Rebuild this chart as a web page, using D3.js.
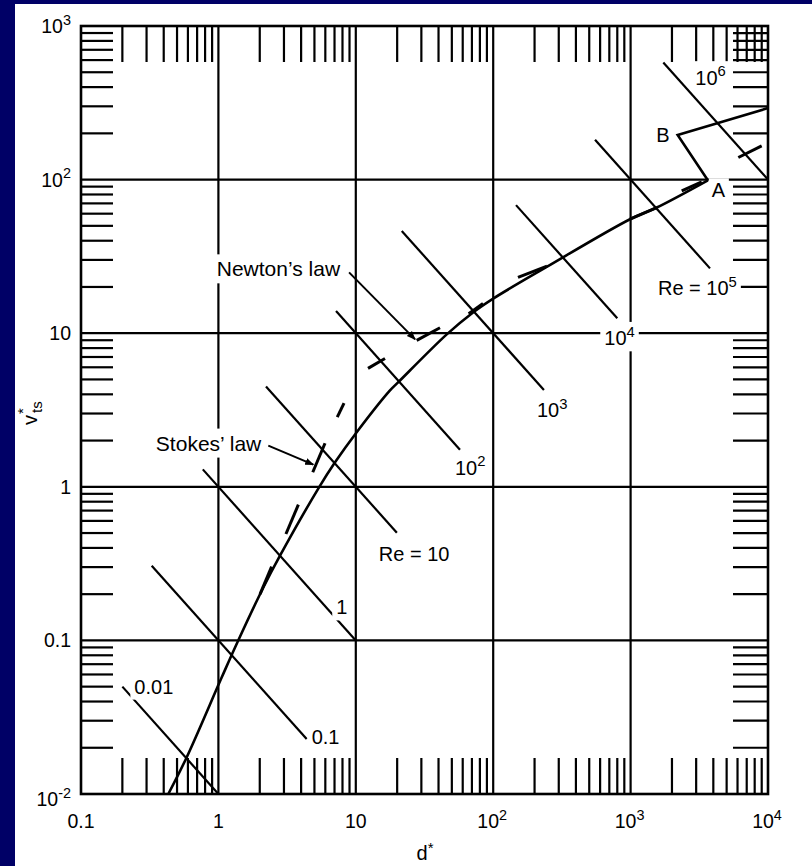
<!DOCTYPE html>
<html>
<head>
<meta charset="utf-8">
<script src="https://cdn.jsdelivr.net/npm/d3@7"></script>
<style>
  html, body { margin: 0; padding: 0; background: #000066; }
  svg { display: block; }
  text { font-family: "Liberation Sans", Arial, Helvetica, sans-serif; fill: #000; }
</style>
</head>
<body>
<svg id="chart" width="812" height="866"></svg>
<script>
// Terminal velocity of spheres: dimensionless v*ts against dimensionless d*

// Axis decades and their labels ([base, superscript])
const xDecades = [0.1, 1, 10, 100, 1000, 10000];
const xTickLabels = [["0.1"], ["1"], ["10"], ["10", "2"], ["10", "3"], ["10", "4"]];
const yDecades = [0.01, 0.1, 1, 10, 100, 1000];
const yTickLabels = [["10", "-2"], ["0.1"], ["1"], ["10"], ["10", "2"], ["10", "3"]];

// Solid curve for spheres, up to point A
const curveD = [0.432, 0.587, 1.056, 1.373, 2.123, 2.807, 5.40, 7.06, 10.15, 17.74, 20.4, 45.9, 71.7, 100, 245, 990, 1549, 3650];
const curveV = [0.01, 0.0173, 0.0573, 0.0969, 0.221, 0.356, 0.992, 1.444, 2.266, 4.24, 4.80, 9.82, 13.7, 16.8, 27.0, 55.2, 65.8, 99];

// Drag crisis: A -> B, then on to the right edge
const crisisD = [3650, 2200, 10000];
const crisisV = [99, 195, 292];
const crisisNames = ["A", "B"];

// Dashes of the Stokes' law and Newton's law lines: [d0, v0, d1, v1]
const stokesDashes = [
  [2.01, 0.200, 2.44, 0.302],
  [3.10, 0.493, 3.82, 0.765],
  [4.86, 1.243, 5.97, 1.921],
  [7.33, 2.839, 8.21, 3.502]
];
const newtonDashes = [
  [12.27, 5.90, 16.31, 6.85],
  [27.75, 8.98, 41.0, 10.86],
  [66.3, 13.4, 84.3, 15.6],
  [151.5, 23.1, 246.4, 27.3],
  [990, 55.2, 1549, 65.8],
  [2355, 84.4, 3293, 96.6],
  [6081, 139.3, 8995, 165.9]
];

// Lines of constant Reynolds number (v* = Re / d*) and the d* span of each
const reValues = [0.01, 0.1, 1, 10, 100, 1000, 1e4, 1e5, 1e6];
const reSpanD = [[0.2, 1], [0.327, 4.39], [0.77, 10], [2.22, 19.9], [7.18, 57.3],
                 [21.6, 234], [146.6, 800], [551, 3784], [1730, 10000]];
const reLabels = [["0.01"], ["0.1"], ["1"], ["Re = 10"], ["10", "2"], ["10", "3"],
                  ["10", "4"], ["Re = 10", "5"], ["10", "6"]];

// Points the law labels point at
const lawNames = ["Newton\u2019s law", "Stokes\u2019 law"];
const lawTargetD = [27.0, 4.906];
const lawTargetV = [9.12, 1.395];

// ---------------------------------------------------------------------------
const svg = d3.select("#chart");
const W = 812, H = 866;

const x = d3.scaleLog().domain([0.1, 1e4]).range([81, 768]);
const y = d3.scaleLog().domain([0.01, 1000]).range([794, 26]);
const [x0, x1] = x.range();
const [y0, y1] = [y.range()[1], y.range()[0]]; // top, bottom

svg.append("rect").attr("width", W).attr("height", H).attr("fill", "#000066");
svg.append("rect").attr("x", 15).attr("y", 4).attr("width", W - 15).attr("height", H - 4).attr("fill", "#fff");

const ink = "#000";
const plot = svg.append("g");

// Decade grid lines
plot.append("g").selectAll("line").data(xDecades.slice(1, -1)).join("line")
  .attr("x1", d => x(d)).attr("x2", d => x(d)).attr("y1", y0).attr("y2", y1)
  .attr("stroke", ink).attr("stroke-width", 2.2);
plot.append("g").selectAll("line").data(yDecades.slice(1, -1)).join("line")
  .attr("y1", d => y(d)).attr("y2", d => y(d)).attr("x1", x0).attr("x2", x1)
  .attr("stroke", ink).attr("stroke-width", 2.2);

// Minor ticks (2..9 in every decade) drawn inward on all four sides
const minor = (decades) => {
  const out = [];
  decades.slice(0, -1).forEach(b => { for (let m = 2; m <= 9; m++) out.push(b * m); });
  return out;
};
const xMinor = minor(xDecades), yMinor = minor(yDecades);
const tickG = plot.append("g").attr("stroke", ink).attr("stroke-width", 2.2);
xMinor.forEach(d => {
  tickG.append("line").attr("x1", x(d)).attr("x2", x(d)).attr("y1", y0).attr("y2", y0 + 36);
  tickG.append("line").attr("x1", x(d)).attr("x2", x(d)).attr("y1", y1).attr("y2", y1 - 36);
});
yMinor.forEach(v => {
  tickG.append("line").attr("y1", y(v)).attr("y2", y(v)).attr("x1", x0).attr("x2", x0 + 32);
  tickG.append("line").attr("y1", y(v)).attr("y2", y(v)).attr("x1", x1 - 35).attr("x2", x1);
});

// Frame
plot.append("rect").attr("x", x0).attr("y", y0).attr("width", x1 - x0).attr("height", y1 - y0)
  .attr("fill", "none").attr("stroke", ink).attr("stroke-width", 2.6);

// Constant-Re lines
plot.append("g").selectAll("line").data(reValues).join("line")
  .attr("x1", (re, i) => x(reSpanD[i][0])).attr("y1", (re, i) => y(re / reSpanD[i][0]))
  .attr("x2", (re, i) => x(reSpanD[i][1])).attr("y2", (re, i) => y(re / reSpanD[i][1]))
  .attr("stroke", ink).attr("stroke-width", 2.2);

// Sphere curve
const line = d3.line().x(p => x(p[0])).y(p => y(p[1]));
plot.append("path")
  .attr("d", line.curve(d3.curveCatmullRom.alpha(0.5))(curveD.map((d, i) => [d, curveV[i]])))
  .attr("fill", "none").attr("stroke", ink).attr("stroke-width", 2.6);
plot.append("path")
  .attr("d", d3.line().x(p => x(p[0])).y(p => y(p[1]))(crisisD.map((d, i) => [d, crisisV[i]])))
  .attr("fill", "none").attr("stroke", ink).attr("stroke-width", 2.6).attr("stroke-linejoin", "miter");

// Law asymptote dashes
plot.append("g").selectAll("line").data(stokesDashes.concat(newtonDashes)).join("line")
  .attr("x1", s => x(s[0])).attr("y1", s => y(s[1]))
  .attr("x2", s => x(s[2])).attr("y2", s => y(s[3]))
  .attr("stroke", ink).attr("stroke-width", 3);

// ---------------------------------------------------------------------------
// Text helpers
const labels = svg.append("g");
function richText(parts, px, py, anchor, size, knock) {
  const g = labels.append("g");
  const t = g.append("text").attr("x", px).attr("y", py).attr("text-anchor", anchor)
    .style("font-size", size + "px");
  t.append("tspan").text(parts[0]);
  if (parts[1]) {
    t.append("tspan").attr("dy", -size * 0.42).style("font-size", (size * 0.74) + "px").text(parts[1]);
  }
  if (knock) {
    const b = t.node().getBBox();
    g.insert("rect", "text").attr("x", b.x - knock).attr("y", b.y - knock + 2)
      .attr("width", b.width + 2 * knock).attr("height", b.height + 2 * knock - 4).attr("fill", "#fff");
  }
  return t;
}

// Axis tick labels
xDecades.forEach((d, i) => richText(xTickLabels[i], x(d) + (xTickLabels[i][1] ? -1 : 0), 828, "middle", 19.5));
yDecades.forEach((v, i) => richText(yTickLabels[i], 71, y(v) + (i === 0 ? 12 : 7), "end", 19.5));

// Axis titles
const xt = labels.append("text").attr("x", 425).attr("y", 860).attr("text-anchor", "middle").style("font-size", "20px");
xt.append("tspan").text("d");
xt.append("tspan").attr("dy", -7).style("font-size", "15px").text("*");

const yt = labels.append("text").attr("transform", "translate(37,425) rotate(-90)").style("font-size", "20px");
yt.append("tspan").attr("x", 0).attr("y", 0).text("v");
yt.append("tspan").attr("x", 11).attr("y", -9).style("font-size", "15px").text("*");
yt.append("tspan").attr("x", 12).attr("y", 5).style("font-size", "15px").text("ts");

// Re labels placed relative to the end of each line: [which end, dx, dy, anchor]
const reLabelPlace = [
  [0, 12, 7, "start"], [1, 5, 5, "start"], [1, -14, -26, "middle"], [1, -18, 28, "start"],
  [1, -5, 25, "start"], [1, -7, 27, "start"], [1, -13, 27, "start"], [1, -52, 27, "start"],
  [0, 32, 22, "start"]
];
reValues.forEach((re, i) => {
  const [end, dx, dy, anchor] = reLabelPlace[i];
  const d = reSpanD[i][end];
  richText(reLabels[i], x(d) + dx, y(re / d) + dy, anchor, 20, 4);
});

// Points A and B
richText([crisisNames[0]], x(crisisD[0]) + 4, y(crisisV[0]) + 17, "start", 20, 3);
richText([crisisNames[1]], x(crisisD[1]) - 8, y(crisisV[1]) + 7, "end", 20, 3);

// Law labels with arrows
svg.append("defs").append("marker").attr("id", "head").attr("viewBox", "0 0 10 10")
  .attr("refX", 9).attr("refY", 5).attr("markerWidth", 9).attr("markerHeight", 9)
  .attr("markerUnits", "userSpaceOnUse").attr("orient", "auto")
  .append("path").attr("d", "M0,1 L10,5 L0,9 Z").attr("fill", ink);

const lawPlace = [
  { tx: -75, ty: -63, ax: -66, ay: -67 },
  { tx: -52, ty: -14, ax: -45, ay: -19 }
];
lawNames.forEach((name, i) => {
  const px = x(lawTargetD[i]), py = y(lawTargetV[i]);
  const p = lawPlace[i];
  richText([name], px + p.tx, py + p.ty, "end", 21, 5);
  labels.append("line").attr("x1", px + p.ax).attr("y1", py + p.ay).attr("x2", px).attr("y2", py)
    .attr("stroke", ink).attr("stroke-width", 2).attr("marker-end", "url(#head)");
});
</script>
</body>
</html>
